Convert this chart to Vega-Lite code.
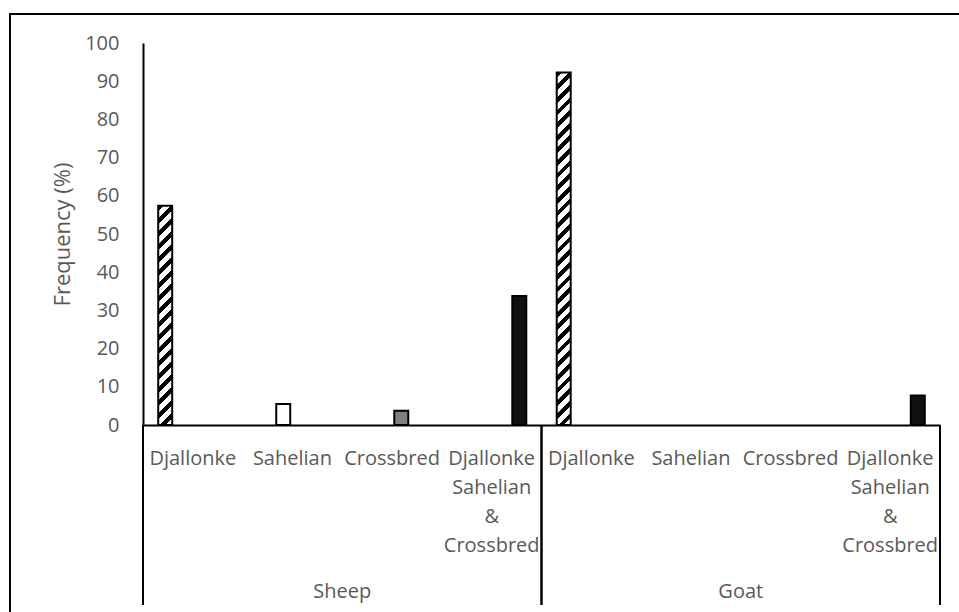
{
  "$schema": "https://vega.github.io/schema/vega-lite/v6.json",
  "width": 951,
  "height": 600,
  "autosize": {"type": "none"},
  "padding": {"left": 10, "top": 14, "right": -2, "bottom": -2},
  "background": "white",
  "config": {
    "view": {"stroke": "#000", "strokeWidth": 2},
    "font": "Open Sans",
    "axis": {"labelFont": "Open Sans", "titleFont": "Open Sans"}
  },
  "data": {
    "values": [
      {"cat": "Sheep|Djallonke", "species": "Sheep", "breed": "Djallonke", "value": 57.4},
      {"cat": "Sheep|Sahelian", "species": "Sheep", "breed": "Sahelian", "value": 5.5},
      {"cat": "Sheep|Crossbred", "species": "Sheep", "breed": "Crossbred", "value": 3.7},
      {"cat": "Sheep|Djallonke Sahelian & Crossbred", "species": "Sheep", "breed": "Djallonke Sahelian & Crossbred", "value": 33.8},
      {"cat": "Goat|Djallonke", "species": "Goat", "breed": "Djallonke", "value": 92.3},
      {"cat": "Goat|Sahelian", "species": "Goat", "breed": "Sahelian", "value": 0},
      {"cat": "Goat|Crossbred", "species": "Goat", "breed": "Crossbred", "value": 0},
      {"cat": "Goat|Djallonke Sahelian & Crossbred", "species": "Goat", "breed": "Djallonke Sahelian & Crossbred", "value": 7.7}
    ]
  },
  "layer": [
    {
      "transform": [{"filter": {"field": "breed", "oneOf": ["Sahelian", "Crossbred", "Djallonke Sahelian & Crossbred"]}}, {"filter": "datum.value > 0"}],
      "mark": {"type": "bar", "stroke": "#000", "strokeWidth": 2},
      "encoding": {
        "x": {
          "field": "cat", "type": "nominal", "sort": null,
          "scale": {
            "domain": ["Sheep|Djallonke", "Sheep|Sahelian", "Sheep|Crossbred", "Sheep|Djallonke Sahelian & Crossbred", "Goat|Djallonke", "Goat|Sahelian", "Goat|Crossbred", "Goat|Djallonke Sahelian & Crossbred"],
            "range": [133, 930], "paddingInner": 0, "paddingOuter": 0
          },
          "axis": {
            "orient": "bottom", "offset": -189, "title": null, "ticks": false,
            "domainColor": "#000", "domainWidth": 2, "labelAngle": 0,
            "labelExpr": "split(split(datum.label, '|')[1], ' ')",
            "labelBaseline": "top", "labelPadding": 23, "labelLineHeight": 29,
            "labelFontSize": 20, "labelColor": "#595959", "labelFont": "Open Sans"
          }
        },
        "xOffset": {
          "field": "breed", "type": "nominal",
          "scale": {"domain": ["Djallonke", "Sahelian", "Crossbred", "Djallonke Sahelian & Crossbred"], "paddingInner": 0.24, "paddingOuter": 0.827}
        },
        "y": {
          "field": "value", "type": "quantitative",
          "scale": {"domain": [0, 100], "range": [411, 29], "nice": false, "zero": true},
          "axis": {
            "orient": "left", "offset": -133, "title": "Frequency (%)", "ticks": false, "grid": false,
            "values": [0, 10, 20, 30, 40, 50, 60, 70, 80, 90, 100],
            "domainColor": "#000", "domainWidth": 2, "labelPadding": 24,
            "labelFontSize": 20, "labelColor": "#595959", "labelFont": "Open Sans",
            "titleFontSize": 22, "titleColor": "#595959", "titleFontWeight": "normal", "titleFont": "Open Sans", "titlePadding": 10
          }
        },
        "fill": {
          "field": "breed", "type": "nominal", "legend": null,
          "scale": {"domain": ["Sahelian", "Crossbred", "Djallonke Sahelian & Crossbred"], "range": ["#ffffff", "#7f7f7f", "#111111"]}
        }
      }
    },
    {
      "transform": [{"filter": {"field": "breed", "equal": "Djallonke"}}],
      "mark": {"type": "rule", "color": "#000", "strokeWidth": 2},
      "encoding": {
        "x": {"field": "cat", "type": "nominal", "bandPosition": 0},
        "y": {"datum": 0, "type": "quantitative"},
        "y2": {"datum": -47.1}
      }
    },
    {
      "transform": [{"filter": {"field": "breed", "equal": "Djallonke Sahelian & Crossbred"}}],
      "mark": {"type": "rule", "color": "#000", "strokeWidth": 2},
      "encoding": {
        "x": {"field": "cat", "type": "nominal", "bandPosition": 1},
        "y": {"datum": 0, "type": "quantitative"},
        "y2": {"datum": -47.1}
      }
    },
    {
      "transform": [{"filter": {"field": "breed", "equal": "Sahelian"}}],
      "mark": {"type": "text", "fontSize": 20, "color": "#595959", "baseline": "middle", "align": "center", "font": "Open Sans"},
      "encoding": {
        "x": {"field": "cat", "type": "nominal", "bandPosition": 1},
        "y": {"datum": -43.6, "type": "quantitative"},
        "text": {"field": "species"}
      }
    },
    {
      "transform": [{"filter": {"field": "cat", "equal": "Sheep|Djallonke"}}],
      "mark": {
        "type": "bar", "stroke": "#000", "strokeWidth": 2,
        "fill": {
          "gradient": "linear", "x1": 0, "y1": 0, "x2": 0.0676, "y2": 1.0596,
          "stops": [
            {"offset": 0, "color": "#000"}, {"offset": 0.025, "color": "#000"}, {"offset": 0.025, "color": "#fff"}, {"offset": 0.0556, "color": "#fff"},
            {"offset": 0.0556, "color": "#000"}, {"offset": 0.0806, "color": "#000"}, {"offset": 0.0806, "color": "#fff"}, {"offset": 0.1111, "color": "#fff"},
            {"offset": 0.1111, "color": "#000"}, {"offset": 0.1361, "color": "#000"}, {"offset": 0.1361, "color": "#fff"}, {"offset": 0.1667, "color": "#fff"},
            {"offset": 0.1667, "color": "#000"}, {"offset": 0.1917, "color": "#000"}, {"offset": 0.1917, "color": "#fff"}, {"offset": 0.2222, "color": "#fff"},
            {"offset": 0.2222, "color": "#000"}, {"offset": 0.2472, "color": "#000"}, {"offset": 0.2472, "color": "#fff"}, {"offset": 0.2778, "color": "#fff"},
            {"offset": 0.2778, "color": "#000"}, {"offset": 0.3028, "color": "#000"}, {"offset": 0.3028, "color": "#fff"}, {"offset": 0.3333, "color": "#fff"},
            {"offset": 0.3333, "color": "#000"}, {"offset": 0.3583, "color": "#000"}, {"offset": 0.3583, "color": "#fff"}, {"offset": 0.3889, "color": "#fff"},
            {"offset": 0.3889, "color": "#000"}, {"offset": 0.4139, "color": "#000"}, {"offset": 0.4139, "color": "#fff"}, {"offset": 0.4444, "color": "#fff"},
            {"offset": 0.4444, "color": "#000"}, {"offset": 0.4694, "color": "#000"}, {"offset": 0.4694, "color": "#fff"}, {"offset": 0.5, "color": "#fff"},
            {"offset": 0.5, "color": "#000"}, {"offset": 0.525, "color": "#000"}, {"offset": 0.525, "color": "#fff"}, {"offset": 0.5556, "color": "#fff"},
            {"offset": 0.5556, "color": "#000"}, {"offset": 0.5806, "color": "#000"}, {"offset": 0.5806, "color": "#fff"}, {"offset": 0.6111, "color": "#fff"},
            {"offset": 0.6111, "color": "#000"}, {"offset": 0.6361, "color": "#000"}, {"offset": 0.6361, "color": "#fff"}, {"offset": 0.6667, "color": "#fff"},
            {"offset": 0.6667, "color": "#000"}, {"offset": 0.6917, "color": "#000"}, {"offset": 0.6917, "color": "#fff"}, {"offset": 0.7222, "color": "#fff"},
            {"offset": 0.7222, "color": "#000"}, {"offset": 0.7472, "color": "#000"}, {"offset": 0.7472, "color": "#fff"}, {"offset": 0.7778, "color": "#fff"},
            {"offset": 0.7778, "color": "#000"}, {"offset": 0.8028, "color": "#000"}, {"offset": 0.8028, "color": "#fff"}, {"offset": 0.8333, "color": "#fff"},
            {"offset": 0.8333, "color": "#000"}, {"offset": 0.8583, "color": "#000"}, {"offset": 0.8583, "color": "#fff"}, {"offset": 0.8889, "color": "#fff"},
            {"offset": 0.8889, "color": "#000"}, {"offset": 0.9139, "color": "#000"}, {"offset": 0.9139, "color": "#fff"}, {"offset": 0.9444, "color": "#fff"},
            {"offset": 0.9444, "color": "#000"}, {"offset": 0.9694, "color": "#000"}, {"offset": 0.9694, "color": "#fff"}, {"offset": 1, "color": "#fff"}
          ]
        }
      },
      "encoding": {
        "x": {"field": "cat", "type": "nominal"},
        "xOffset": {"field": "breed", "type": "nominal"},
        "y": {"field": "value", "type": "quantitative"}
      }
    },
    {
      "transform": [{"filter": {"field": "cat", "equal": "Goat|Djallonke"}}],
      "mark": {
        "type": "bar", "stroke": "#000", "strokeWidth": 2,
        "fill": {
          "gradient": "linear", "x1": 0, "y1": 0, "x2": 0.0412, "y2": 1.0381,
          "stops": [
            {"offset": 0, "color": "#000"}, {"offset": 0.0155, "color": "#000"}, {"offset": 0.0155, "color": "#fff"}, {"offset": 0.0345, "color": "#fff"},
            {"offset": 0.0345, "color": "#000"}, {"offset": 0.05, "color": "#000"}, {"offset": 0.05, "color": "#fff"}, {"offset": 0.069, "color": "#fff"},
            {"offset": 0.069, "color": "#000"}, {"offset": 0.0845, "color": "#000"}, {"offset": 0.0845, "color": "#fff"}, {"offset": 0.1034, "color": "#fff"},
            {"offset": 0.1034, "color": "#000"}, {"offset": 0.119, "color": "#000"}, {"offset": 0.119, "color": "#fff"}, {"offset": 0.1379, "color": "#fff"},
            {"offset": 0.1379, "color": "#000"}, {"offset": 0.1534, "color": "#000"}, {"offset": 0.1534, "color": "#fff"}, {"offset": 0.1724, "color": "#fff"},
            {"offset": 0.1724, "color": "#000"}, {"offset": 0.1879, "color": "#000"}, {"offset": 0.1879, "color": "#fff"}, {"offset": 0.2069, "color": "#fff"},
            {"offset": 0.2069, "color": "#000"}, {"offset": 0.2224, "color": "#000"}, {"offset": 0.2224, "color": "#fff"}, {"offset": 0.2414, "color": "#fff"},
            {"offset": 0.2414, "color": "#000"}, {"offset": 0.2569, "color": "#000"}, {"offset": 0.2569, "color": "#fff"}, {"offset": 0.2759, "color": "#fff"},
            {"offset": 0.2759, "color": "#000"}, {"offset": 0.2914, "color": "#000"}, {"offset": 0.2914, "color": "#fff"}, {"offset": 0.3103, "color": "#fff"},
            {"offset": 0.3103, "color": "#000"}, {"offset": 0.3259, "color": "#000"}, {"offset": 0.3259, "color": "#fff"}, {"offset": 0.3448, "color": "#fff"},
            {"offset": 0.3448, "color": "#000"}, {"offset": 0.3603, "color": "#000"}, {"offset": 0.3603, "color": "#fff"}, {"offset": 0.3793, "color": "#fff"},
            {"offset": 0.3793, "color": "#000"}, {"offset": 0.3948, "color": "#000"}, {"offset": 0.3948, "color": "#fff"}, {"offset": 0.4138, "color": "#fff"},
            {"offset": 0.4138, "color": "#000"}, {"offset": 0.4293, "color": "#000"}, {"offset": 0.4293, "color": "#fff"}, {"offset": 0.4483, "color": "#fff"},
            {"offset": 0.4483, "color": "#000"}, {"offset": 0.4638, "color": "#000"}, {"offset": 0.4638, "color": "#fff"}, {"offset": 0.4828, "color": "#fff"},
            {"offset": 0.4828, "color": "#000"}, {"offset": 0.4983, "color": "#000"}, {"offset": 0.4983, "color": "#fff"}, {"offset": 0.5172, "color": "#fff"},
            {"offset": 0.5172, "color": "#000"}, {"offset": 0.5328, "color": "#000"}, {"offset": 0.5328, "color": "#fff"}, {"offset": 0.5517, "color": "#fff"},
            {"offset": 0.5517, "color": "#000"}, {"offset": 0.5672, "color": "#000"}, {"offset": 0.5672, "color": "#fff"}, {"offset": 0.5862, "color": "#fff"},
            {"offset": 0.5862, "color": "#000"}, {"offset": 0.6017, "color": "#000"}, {"offset": 0.6017, "color": "#fff"}, {"offset": 0.6207, "color": "#fff"},
            {"offset": 0.6207, "color": "#000"}, {"offset": 0.6362, "color": "#000"}, {"offset": 0.6362, "color": "#fff"}, {"offset": 0.6552, "color": "#fff"},
            {"offset": 0.6552, "color": "#000"}, {"offset": 0.6707, "color": "#000"}, {"offset": 0.6707, "color": "#fff"}, {"offset": 0.6897, "color": "#fff"},
            {"offset": 0.6897, "color": "#000"}, {"offset": 0.7052, "color": "#000"}, {"offset": 0.7052, "color": "#fff"}, {"offset": 0.7241, "color": "#fff"},
            {"offset": 0.7241, "color": "#000"}, {"offset": 0.7397, "color": "#000"}, {"offset": 0.7397, "color": "#fff"}, {"offset": 0.7586, "color": "#fff"},
            {"offset": 0.7586, "color": "#000"}, {"offset": 0.7741, "color": "#000"}, {"offset": 0.7741, "color": "#fff"}, {"offset": 0.7931, "color": "#fff"},
            {"offset": 0.7931, "color": "#000"}, {"offset": 0.8086, "color": "#000"}, {"offset": 0.8086, "color": "#fff"}, {"offset": 0.8276, "color": "#fff"},
            {"offset": 0.8276, "color": "#000"}, {"offset": 0.8431, "color": "#000"}, {"offset": 0.8431, "color": "#fff"}, {"offset": 0.8621, "color": "#fff"},
            {"offset": 0.8621, "color": "#000"}, {"offset": 0.8776, "color": "#000"}, {"offset": 0.8776, "color": "#fff"}, {"offset": 0.8966, "color": "#fff"},
            {"offset": 0.8966, "color": "#000"}, {"offset": 0.9121, "color": "#000"}, {"offset": 0.9121, "color": "#fff"}, {"offset": 0.931, "color": "#fff"},
            {"offset": 0.931, "color": "#000"}, {"offset": 0.9466, "color": "#000"}, {"offset": 0.9466, "color": "#fff"}, {"offset": 0.9655, "color": "#fff"},
            {"offset": 0.9655, "color": "#000"}, {"offset": 0.981, "color": "#000"}, {"offset": 0.981, "color": "#fff"}, {"offset": 1, "color": "#fff"}
          ]
        }
      },
      "encoding": {
        "x": {"field": "cat", "type": "nominal"},
        "xOffset": {"field": "breed", "type": "nominal"},
        "y": {"field": "value", "type": "quantitative"}
      }
    }
  ]
}
